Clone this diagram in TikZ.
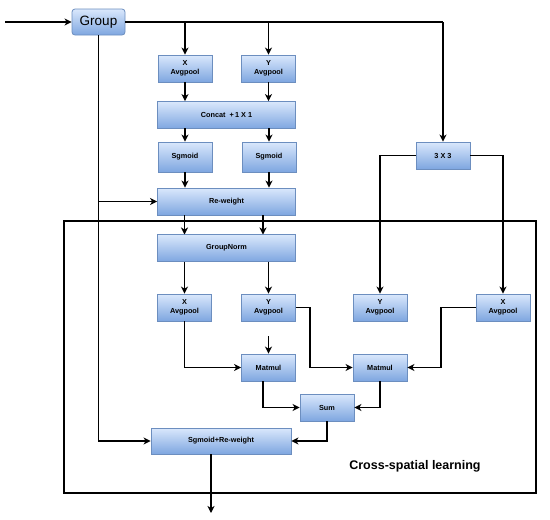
\documentclass[tikz,border=0pt]{standalone}
\usepackage{fontspec}
\setmainfont{Liberation Sans}
\usetikzlibrary{arrows.meta}
\definecolor{boxtop}{HTML}{DAE8FC}
\definecolor{boxbot}{HTML}{7EA6E0}
\definecolor{boxline}{HTML}{6C8EBF}
\begin{document}
\begin{tikzpicture}[x=1pt,y=-1pt,
  blk/.style={draw=boxline, line width=0.8pt, top color=boxtop, bottom color=boxbot,
    inner sep=0pt, align=center, font=\fontsize{7.3}{8.5}\selectfont\bfseries},
  sm/.style={blk, minimum width=54pt, minimum height=27pt},
  wide/.style={blk, minimum width=138pt, minimum height=27pt},
  conn/.style={line width=1.2pt, -{Stealth[length=7pt,width=7pt,inset=2pt]}},
  ln/.style={line width=1.2pt}]
\useasboundingbox (0,0) rectangle (550,520);
% outer frame
\draw[line width=1.2pt] (64,221) rectangle (536,493);
% nodes
\node[blk, rounded corners=3pt, minimum width=53pt, minimum height=26pt, font=\fontsize{13.5}{15}\selectfont] (grp) at (98.5,22) {Group};
\coordinate (in) at (5,22);
\node[sm] (xa1) at (185,68.5) {X\\Avgpool};
\node[sm] (ya1) at (268.5,68.5) {Y\\Avgpool};
\node[wide] (cat) at (226.5,115) {Concat\ \ +\,1 X 1};
\node[sm, minimum height=30pt] (sg1) at (185,157) {Sgmoid};
\node[sm, minimum height=30pt] (sg2) at (269,157) {Sgmoid};
\node[wide] (rw) at (226.5,201.5) {Re-weight};
\node[sm] (c33) at (443,155.5) {3 X 3};
\node[wide] (gn) at (226.5,248) {GroupNorm};
\node[sm] (xa2) at (184.5,307.5) {X\\Avgpool};
\node[sm] (ya2) at (268.5,307.5) {Y\\Avgpool};
\node[sm] (ya3) at (380,307.5) {Y\\Avgpool};
\node[sm] (xa3) at (503,307.5) {X\\Avgpool};
\node[sm] (mm1) at (268.5,367.5) {Matmul};
\node[sm] (mm2) at (380,367.5) {Matmul};
\node[sm] (sum) at (327,407.5) {Sum};
\node[blk, minimum width=140pt, minimum height=26pt] (srw) at (221,441) {Sgmoid+Re-weight};
\node[font=\fontsize{12.5}{14}\selectfont\bfseries] (lbl) at (415,466) {Cross-spatial learning};
\coordinate (out) at (211,513);
\coordinate (stray) at (268.5,336);
% connectors
\draw[conn] (in) -- (grp.west);
\draw[ln] (grp.east) -- (443,22);
\draw[conn] (443,22) -- (c33.north);
\draw[conn] (185,22) -- (xa1.north);
\draw[conn] (268.5,22) -- (ya1.north);
\draw[conn] (xa1.south) -- (xa1.south |- cat.north);
\draw[conn] (ya1.south) -- (ya1.south |- cat.north);
\draw[conn] (185,128) -- (sg1.north);
\draw[conn] (269,128) -- (sg2.north);
\draw[conn] (sg1.south) -- (sg1.south |- rw.north);
\draw[conn] (sg2.south) -- (sg2.south |- rw.north);
\draw[conn] (98.5,201.5) -- (rw.west);
\draw[conn] (184.5,215) -- (184.5,234.5);
\draw[conn] (263,215) -- (263,234.5);
\draw[conn] (184.5,261.5) -- (xa2.north);
\draw[conn] (268.5,261.5) -- (ya2.north);
\draw[conn] (c33.west) -| (ya3.north);
\draw[conn] (c33.east) -| (xa3.north);
\draw[conn] (xa2.south) |- (mm1.west);
\draw[conn] (stray) -- (mm1.north);
\draw[conn] (ya2.east) -- (310,307.5) |- (mm2.west);
\draw[conn] (xa3.west) -- (441,307.5) |- (mm2.east);
\draw[conn] (263,381) |- (sum.west);
\draw[conn] (mm2.south) |- (sum.east);
\draw[conn] (sum.south) |- (srw.east);
\draw[conn] (grp.south) |- (srw.west);
\draw[conn] (211,454) -- (out);
\end{tikzpicture}
\end{document}
